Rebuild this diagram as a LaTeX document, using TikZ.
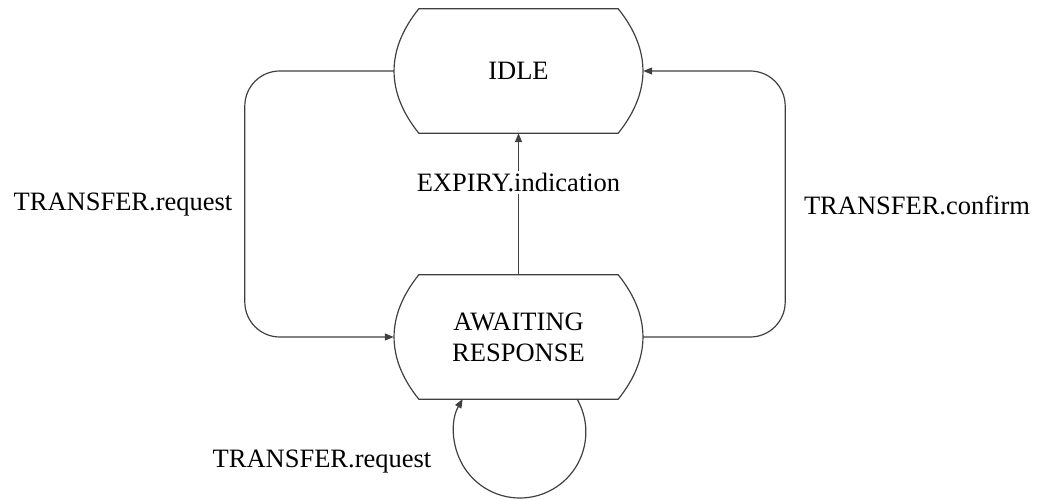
\documentclass[tikz,border=0pt]{standalone}
\usepackage{fontspec}
\setmainfont{Liberation Serif}
\usetikzlibrary{arrows.meta}
\tikzset{
  ln/.style={line width=1.2pt, draw=black!75},
  arr/.style={ln, -{Triangle[length=9pt,width=7pt]}},
  state/.style={rectangle, minimum width=249pt, minimum height=124pt, inner sep=0pt, align=center, font=\fontsize{26.5}{31}\selectfont},
  lbl/.style={font=\fontsize{26.5}{31}\selectfont, inner sep=2pt},
}
\newcommand{\stshape}[1]{%
  \draw[ln] ([xshift=25pt]#1.north west) -- ([xshift=-25pt]#1.north east)
    .. controls ([xshift=8pt,yshift=-41pt]#1.north east) and ([xshift=8pt,yshift=41pt]#1.south east) .. ([xshift=-25pt]#1.south east)
    -- ([xshift=25pt]#1.south west)
    .. controls ([xshift=-8pt,yshift=41pt]#1.south west) and ([xshift=-8pt,yshift=-41pt]#1.north west) .. cycle;}
\begin{document}
\begin{tikzpicture}[x=1pt,y=1pt]
\useasboundingbox (0,0) rectangle (1042,500);
\node[state] (idle) at (518.5,429) {IDLE};
\node[state] (await) at (518.5,163) {AWAITING\\RESPONSE};
\stshape{idle}
\stshape{await}
% left
\draw[arr, rounded corners=35pt] (idle.west) -- ++(-149,0) |- (await.west);
\node[lbl] (l1) at (123,295) {TRANSFER.request};
% right
\draw[arr, rounded corners=35pt] (await.east) -- ++(142,0) |- (idle.east);
\node[lbl] (l2) at (917,295) {TRANSFER.confirm};
% middle
\draw[arr] (await.north) -- (idle.south) node[lbl, pos=0.65, fill=white] (l3) {EXPIRY.indication};
% self loop
\coordinate (lc) at (520,68);
\draw[arr] ([xshift=57pt]lc) ++(0,33) arc[start angle=30, end angle=-210, radius=66];
\node[lbl] (l4) at (322,38) {TRANSFER.request};
\end{tikzpicture}
\end{document}
